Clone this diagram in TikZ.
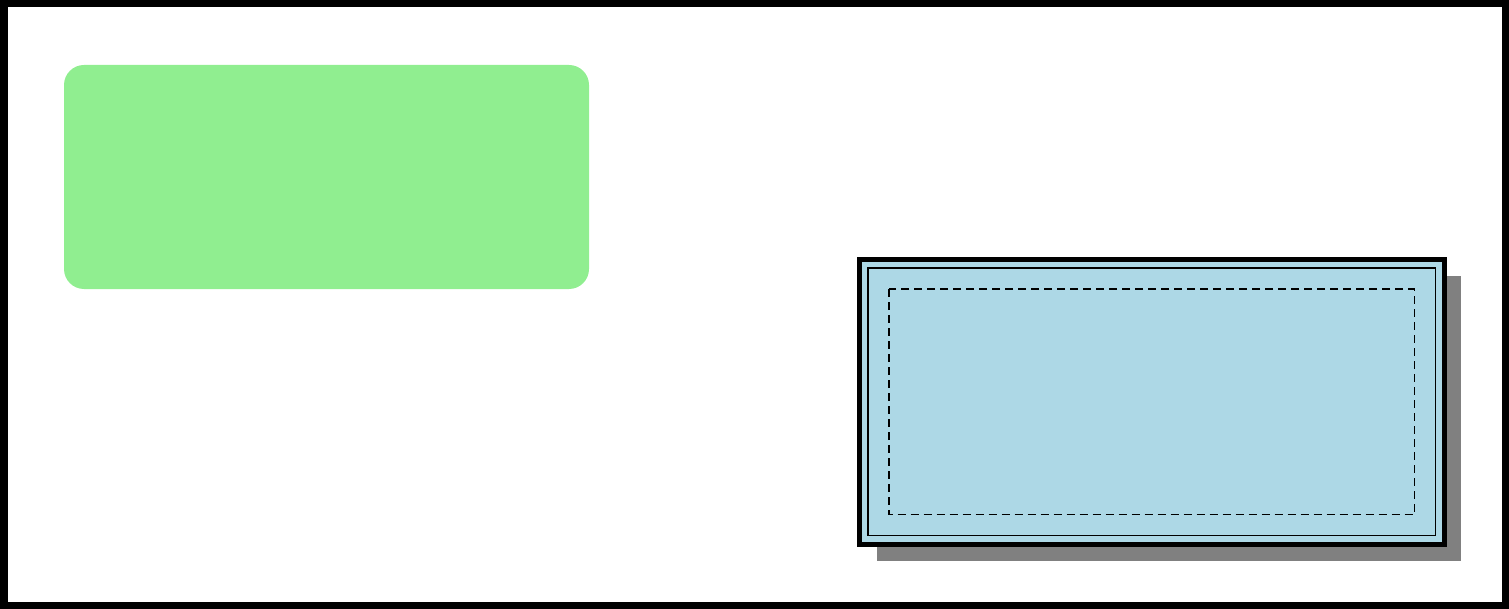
\documentclass[tikz,border=0pt]{standalone}
\usetikzlibrary{shadows}
\definecolor{boxgreen}{RGB}{144,238,144}
\definecolor{boxblue}{RGB}{173,216,230}
\tikzset{
  greenbox/.style={fill=boxgreen, rounded corners=10pt, minimum width=262.5pt, minimum height=112pt, inner sep=0pt},
  bluebox/.style={fill=boxblue, draw=black, line width=2.5pt, minimum width=292.25pt, minimum height=142.25pt, inner sep=0pt,
    drop shadow={shadow xshift=8.5pt, shadow yshift=-8.5pt, fill=gray, opacity=1}}
}
\begin{document}
\begin{tikzpicture}[x=0.5pt, y=-0.5pt]

        \useasboundingbox (0,0) rectangle (1509,609);

        % outer frame
        \draw[line width=3.75pt] (3.75,3.75) rectangle (1505.25,605.25);

        \def\lineGap{5.5pt}
        \def\dashGap{16pt}

        \node[greenbox] (green) at (326.5,177) {};

        \node[bluebox] (blue) at (1151.75,401.75) {};

        % inner thin border
        \draw[line width=0.6pt] ([shift={(\lineGap,-\lineGap)}]blue.north west) rectangle ([shift={(-\lineGap,\lineGap)}]blue.south east);

        % dashed border
        \draw[line width=0.7pt, dash pattern=on 4pt off 2.5pt] ([shift={(\dashGap,-\dashGap)}]blue.north west) rectangle ([shift={(-\dashGap,\dashGap)}]blue.south east);

\end{tikzpicture}
\end{document}
